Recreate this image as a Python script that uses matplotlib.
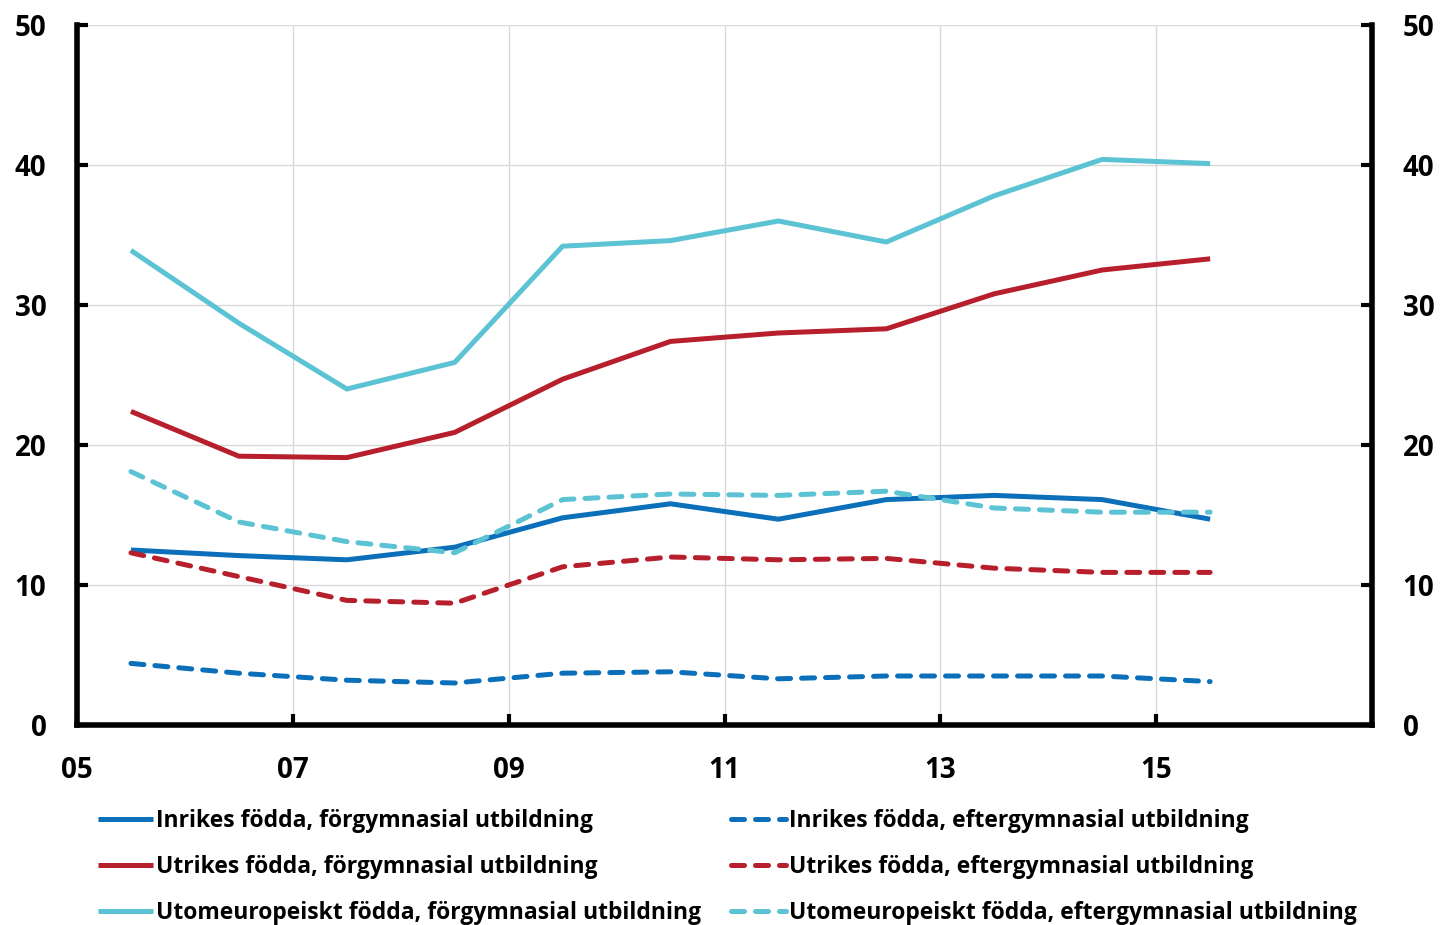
import matplotlib
matplotlib.use("Agg")
import matplotlib.pyplot as plt
import numpy as np

plt.rcParams['font.family'] = ['Open Sans', 'DejaVu Sans']
plt.rcParams['font.weight'] = 'bold'

years = np.arange(2005, 2016)

inrikes_forgym = [12.5, 12.1, 11.8, 12.7, 14.8, 15.8, 14.7, 16.1, 16.4, 16.1, 14.7]
utrikes_forgym = [22.4, 19.2, 19.1, 20.9, 24.7, 27.4, 28.0, 28.3, 30.8, 32.5, 33.3]
utomeu_forgym = [33.9, 28.7, 24.0, 25.9, 34.2, 34.6, 36.0, 34.5, 37.8, 40.4, 40.1]
inrikes_eftergym = [4.4, 3.7, 3.2, 3.0, 3.7, 3.8, 3.3, 3.5, 3.5, 3.5, 3.1]
utrikes_eftergym = [12.3, 10.6, 8.9, 8.7, 11.3, 12.0, 11.8, 11.9, 11.2, 10.9, 10.9]
utomeu_eftergym = [18.1, 14.5, 13.1, 12.3, 16.1, 16.5, 16.4, 16.7, 15.5, 15.2, 15.2]

labels = [
    "Inrikes födda, förgymnasial utbildning",
    "Utrikes födda, förgymnasial utbildning",
    "Utomeuropeiskt födda, förgymnasial utbildning",
    "Inrikes födda, eftergymnasial utbildning",
    "Utrikes födda, eftergymnasial utbildning",
    "Utomeuropeiskt födda, eftergymnasial utbildning",
]

xtick_years = [2005, 2007, 2009, 2011, 2013, 2015]
xtick_labels = ["05", "07", "09", "11", "13", "15"]
yticks = [0, 10, 20, 30, 40, 50]

blue = "#0B6FBA"
red = "#B71F2D"
cyan = "#5BC3D3"

fig = plt.figure(figsize=(14.4, 9.25), dpi=100)
ax = fig.add_axes([77 / 1440, 200 / 925, (1372 - 77) / 1440, 700 / 925])

# yearly observations are placed at mid-year
xpos = years + 0.5
lw = 3.6
dash = (0, (2.6, 2.2))

series = [
    (inrikes_forgym, blue, '-'),
    (utrikes_forgym, red, '-'),
    (utomeu_forgym, cyan, '-'),
    (inrikes_eftergym, blue, dash),
    (utrikes_eftergym, red, dash),
    (utomeu_eftergym, cyan, dash),
]
handles = []
for (vals, col, ls), lab in zip(series, labels):
    h, = ax.plot(xpos, vals, color=col, lw=lw, linestyle=ls, label=lab,
                 dash_capstyle='round', solid_capstyle='butt', zorder=3)
    handles.append(h)

ax.set_xlim(2005, 2017)
ax.set_ylim(0, 50)
ax.set_xticks(xtick_years)
ax.set_xticklabels(xtick_labels)
ax.set_yticks(yticks)
ax.grid(True, color="#d9d9d9", lw=1.0, zorder=0)

for side in ['left', 'right', 'bottom']:
    ax.spines[side].set_linewidth(4)
    ax.spines[side].set_color('black')
ax.spines['top'].set_visible(False)

ax.tick_params(axis='x', direction='in', length=8, width=3, pad=22,
               labelsize=20)
ax.tick_params(axis='y', direction='in', length=8, width=3, pad=22,
               labelsize=20)

ax2 = ax.twinx()
ax2.set_ylim(0, 50)
ax2.set_yticks(yticks)
for side in ['left', 'right', 'bottom', 'top']:
    ax2.spines[side].set_visible(False)
ax2.tick_params(axis='y', direction='in', length=8, width=3, pad=22,
                labelsize=20)

for t in ax.get_xticklabels() + ax.get_yticklabels() + ax2.get_yticklabels():
    t.set_fontweight('bold')

leg = fig.legend(handles=handles, loc='upper left',
                 bbox_to_anchor=(98 / 1440, 1 - 809 / 925), ncol=2,
                 frameon=False, fontsize=16.5, handlelength=2.4,
                 handletextpad=0.15, columnspacing=1.28, labelspacing=0.95,
                 borderaxespad=0, borderpad=0)
for t in leg.get_texts():
    t.set_fontweight('bold')

fig.savefig("out.png", dpi=100)
